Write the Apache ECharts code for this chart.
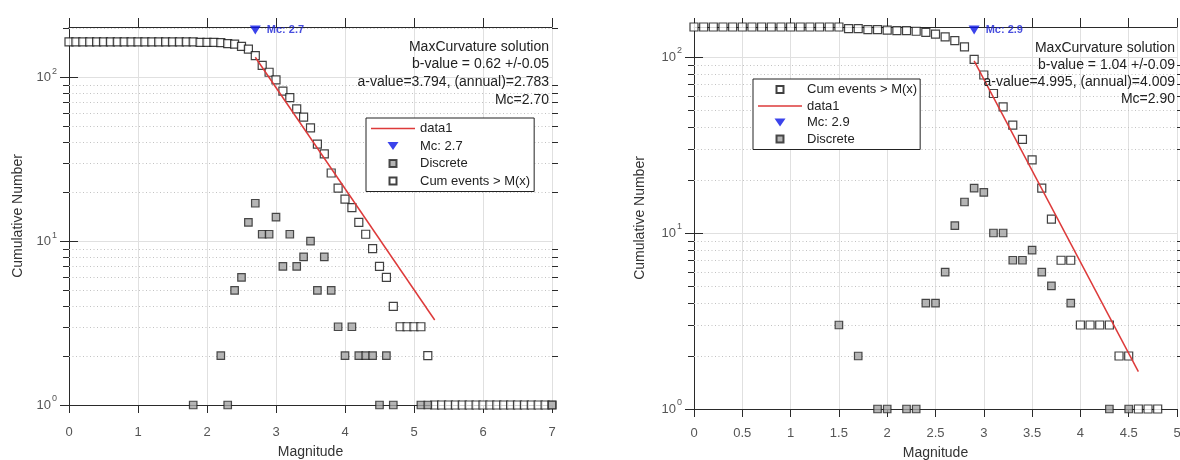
<!DOCTYPE html>
<html>
<head>
<meta charset="utf-8">
<script src="https://cdn.jsdelivr.net/npm/echarts@6/dist/echarts.min.js"></script>
<style>
  html, body { margin: 0; padding: 0; background: #fff; }
  #chart { width: 1180px; height: 460px; }
</style>
</head>
<body>
<div id="chart"></div>
<script>
// ---- left panel (Mc 2.7) ----
const leftMag = [0, 0.1, 0.2, 0.3, 0.4, 0.5, 0.6, 0.7, 0.8, 0.9, 1, 1.1, 1.2, 1.3, 1.4, 1.5, 1.6, 1.7, 1.8, 1.9,
    2, 2.1, 2.2, 2.3, 2.4, 2.5, 2.6, 2.7, 2.8, 2.9, 3, 3.1, 3.2, 3.3, 3.4, 3.5, 3.6, 3.7, 3.8, 3.9,
    4, 4.1, 4.2, 4.3, 4.4, 4.5, 4.6, 4.7, 4.8, 4.9, 5, 5.1, 5.2, 5.3, 5.4, 5.5, 5.6, 5.7, 5.8, 5.9,
    6, 6.1, 6.2, 6.3, 6.4, 6.5, 6.6, 6.7, 6.8, 6.9, 7];
const leftCum = [164, 164, 164, 164, 164, 164, 164, 164, 164, 164, 164, 164, 164, 164, 164, 164, 164, 164, 164, 163,
    163, 163, 162, 160, 159, 154, 148, 135, 118, 107, 96, 82, 75, 64, 57, 49, 39, 34, 26, 21,
    18, 16, 13, 11, 9, 7, 6, 4, 3, 3, 3, 3, 2, 1, 1, 1, 1, 1, 1, 1,
    1, 1, 1, 1, 1, 1, 1, 1, 1, 1, 1];
const leftDiscMag = [1.8, 2.2, 2.3, 2.4, 2.5, 2.6, 2.7, 2.8, 2.9, 3.0, 3.1, 3.2, 3.3, 3.4, 3.5,
    3.6, 3.7, 3.8, 3.9, 4.0, 4.1, 4.2, 4.3, 4.4, 4.5, 4.6, 4.7, 5.1, 5.2, 7.0];
const leftDisc = [1, 2, 1, 5, 6, 13, 17, 11, 11, 14, 7, 11, 7, 8, 10,
    5, 8, 5, 3, 2, 3, 2, 2, 2, 1, 2, 1, 1, 1, 1];
const leftFitMag = [2.7, 5.3];
const leftFitN = [132, 3.3];
const leftMc = 2.7;
const leftYMax = 202;
const leftMinor = [2, 3, 4, 5, 6, 7, 8, 9, 20, 30, 40, 50, 60, 70, 80, 90, 200];
const leftNote = ['MaxCurvature solution', 'b-value = 0.62 +/-0.05', 'a-value=3.794, (annual)=2.783', 'Mc=2.70'];

// ---- right panel (Mc 2.9) ----
const rightMag = [0, 0.1, 0.2, 0.3, 0.4, 0.5, 0.6, 0.7, 0.8, 0.9, 1, 1.1, 1.2, 1.3, 1.4, 1.5, 1.6, 1.7, 1.8, 1.9,
    2, 2.1, 2.2, 2.3, 2.4, 2.5, 2.6, 2.7, 2.8, 2.9, 3, 3.1, 3.2, 3.3, 3.4, 3.5, 3.6, 3.7, 3.8, 3.9,
    4, 4.1, 4.2, 4.3, 4.4, 4.5, 4.6, 4.7, 4.8];
const rightCum = [148, 148, 148, 148, 148, 148, 148, 148, 148, 148, 148, 148, 148, 148, 148, 148, 145, 145, 143, 143,
    142, 141, 141, 140, 138, 135, 130, 124, 114, 97, 79, 62, 52, 41, 34, 26, 18, 12, 7, 7,
    3, 3, 3, 3, 2, 2, 1, 1, 1];
const rightDiscMag = [1.5, 1.7, 1.9, 2.0, 2.2, 2.3, 2.4, 2.5, 2.6, 2.7, 2.8, 2.9, 3.0, 3.1, 3.2,
    3.3, 3.4, 3.5, 3.6, 3.7, 3.9, 4.3, 4.5];
const rightDisc = [3, 2, 1, 1, 1, 1, 4, 4, 6, 11, 15, 18, 17, 10, 10,
    7, 7, 8, 6, 5, 4, 1, 1];
const rightFitMag = [2.9, 4.6];
const rightFitN = [95, 1.63];
const rightMc = 2.9;
const rightYMax = 148;
const rightMinor = [2, 3, 4, 5, 6, 7, 8, 9, 20, 30, 40, 50, 60, 70, 80, 90];
const rightNote = ['MaxCurvature solution', 'b-value = 1.04 +/-0.09', 'a-value=4.995, (annual)=4.009', 'Mc=2.90'];

const FONT = 'Liberation Sans, Arial, sans-serif';
const AXIS = '#2a2a2a';

// legend icons, padded to the 44x8 item box so they are not stretched
const ICON_SQ = 'path://M0,0 M44,8 M18.5,0.5 h7 v7 h-7 z';
const ICON_TRI = 'path://M0,0 M44,8 M16.5,0 h11 l-5.5,8 z';
const ICON_LINE = 'path://M0,0 M44,8 M0,3.3 h44 v1.5 h-44 z';

function pairs(xs, ys) {
    return xs.map((x, i) => [x, ys[i]]);
}

function minorRender(params, api) {
    const cs = params.coordSys;
    const y = Math.round(api.coord([0, api.value(1)])[1]) + 0.5;
    const x0 = cs.x, x1 = cs.x + cs.width;
    return {
        type: 'group',
        children: [
            { type: 'line', shape: { x1: x0, y1: y, x2: x1, y2: y }, style: { stroke: '#c2c2c2', lineWidth: 1, lineDash: [1, 2.5] } },
            { type: 'line', shape: { x1: x0 - 6, y1: y, x2: x0, y2: y }, style: { stroke: AXIS, lineWidth: 1 } },
            { type: 'line', shape: { x1: x1, y1: y, x2: x1 + 6, y2: y }, style: { stroke: AXIS, lineWidth: 1 } }
        ]
    };
}

function xAxes(grid, max, interval, margin, gap) {
    return [{
        gridIndex: grid, type: 'value', min: 0, max: max, interval: interval,
        axisLine: { onZero: false, lineStyle: { color: AXIS } },
        axisTick: { length: 8, lineStyle: { color: AXIS } },
        axisLabel: { color: '#555', fontSize: 13, fontFamily: FONT, margin: margin },
        splitLine: { show: true, lineStyle: { color: '#e0e0e0' } },
        name: 'Magnitude', nameLocation: 'middle', nameGap: gap,
        nameTextStyle: { color: '#333', fontSize: 14, fontFamily: FONT }
    }, {
        gridIndex: grid, type: 'value', position: 'top', min: 0, max: max, interval: interval,
        axisLine: { onZero: false, lineStyle: { color: AXIS } },
        axisTick: { length: 9, lineStyle: { color: AXIS } },
        axisLabel: { show: false }, splitLine: { show: false }
    }];
}

function yAxes(grid, max, gap) {
    return [{
        gridIndex: grid, type: 'log', logBase: 10, min: 1, max: max,
        axisLine: { show: true, lineStyle: { color: AXIS } },
        axisTick: { length: 9, lineStyle: { color: AXIS } },
        axisLabel: {
            showMaxLabel: false, margin: 12,
            formatter: v => '{b|10}{s|' + Math.round(Math.log10(v)) + '}',
            rich: {
                b: { fontSize: 13, color: '#555', fontFamily: FONT },
                s: { fontSize: 9, color: '#555', fontFamily: FONT, padding: [0, 0, 12, 1] }
            }
        },
        splitLine: { show: true, lineStyle: { color: '#e0e0e0' } },
        name: 'Cumulative Number', nameLocation: 'middle', nameGap: gap,
        nameTextStyle: { color: '#333', fontSize: 14, fontFamily: FONT }
    }, {
        gridIndex: grid, type: 'log', logBase: 10, min: 1, max: max, position: 'right',
        axisLine: { show: true, lineStyle: { color: AXIS } },
        axisTick: { length: 9, lineStyle: { color: AXIS } },
        axisLabel: { show: false }, splitLine: { show: false }
    }];
}

function panelSeries(idx, p) {
    const xi = idx * 2, yi = idx * 2;
    return [{
        type: 'custom', xAxisIndex: xi, yAxisIndex: yi, z: 1, silent: true,
        renderItem: minorRender, data: p.minor.map(v => [0, v])
    }, {
        name: 'Cum events > M(x)', type: 'scatter', xAxisIndex: xi, yAxisIndex: yi, z: 3,
        symbol: 'rect', symbolSize: 8,
        itemStyle: { color: '#ffffff', borderColor: '#111', borderWidth: 1.2 },
        data: pairs(p.mag, p.cum)
    }, {
        name: 'Discrete', type: 'scatter', xAxisIndex: xi, yAxisIndex: yi, z: 4,
        symbol: 'rect', symbolSize: 7.5,
        itemStyle: { color: '#a3a3a3', borderColor: '#222', borderWidth: 1.2 },
        data: pairs(p.discMag, p.disc)
    }, {
        name: 'data1', type: 'line', xAxisIndex: xi, yAxisIndex: yi, z: 5,
        symbol: 'none', lineStyle: { color: '#dd3a3a', width: 1.5 },
        itemStyle: { color: '#dd3a3a' },
        data: pairs(p.fitMag, p.fitN)
    }, {
        name: 'Mc: ' + p.mc, type: 'scatter', xAxisIndex: xi, yAxisIndex: yi, z: 6,
        symbol: 'triangle', symbolRotate: 180, symbolSize: [11, 9], symbolOffset: [0, 3],
        itemStyle: { color: '#0a14e6' },
        label: {
            show: true, position: 'right', distance: 6, formatter: 'Mc: ' + p.mc,
            color: '#1a22d6', fontWeight: 'bold', fontSize: 11, fontFamily: FONT
        },
        data: [[p.mc, p.ymax]]
    }];
}

function legendItem(name) {
    if (name === 'data1') return { name: name, icon: ICON_LINE };
    if (name.indexOf('Mc:') === 0) return { name: name, icon: ICON_TRI };
    return { name: name, icon: ICON_SQ };
}

function legendBox(left, top, names, gap, padding) {
    return {
        orient: 'vertical', left: left, top: top, data: names.map(legendItem),
        itemWidth: 44, itemHeight: 8, itemGap: gap, itemTextGap: 5,
        symbolRotate: 0, symbolKeepAspect: false,
        padding: padding, borderColor: '#222', borderWidth: 1, borderRadius: 0,
        backgroundColor: '#fff', selectedMode: false,
        textStyle: { color: '#222', fontSize: 13, fontFamily: FONT }
    };
}

const leftPanel = { mag: leftMag, cum: leftCum, discMag: leftDiscMag, disc: leftDisc,
    fitMag: leftFitMag, fitN: leftFitN, mc: leftMc, ymax: leftYMax, minor: leftMinor };
const rightPanel = { mag: rightMag, cum: rightCum, discMag: rightDiscMag, disc: rightDisc,
    fitMag: rightFitMag, fitN: rightFitN, mc: rightMc, ymax: rightYMax, minor: rightMinor };

const myChart = echarts.init(document.getElementById('chart'), null, { renderer: 'canvas' });

const option = {
    animation: false,
    backgroundColor: '#fff',
    grid: [
        { left: 69, top: 27, width: 483, height: 378, outerBoundsMode: 'none', containLabel: false },
        { left: 694, top: 27, width: 483, height: 382, outerBoundsMode: 'none', containLabel: false }
    ],
    xAxis: [...xAxes(0, 7, 1, 21, 40), ...xAxes(1, 5, 0.5, 18, 37)],
    yAxis: [...yAxes(0, leftYMax, 44), ...yAxes(1, rightYMax, 47)],
    legend: [
        legendBox(366, 118, ['data1', 'Mc: 2.7', 'Discrete', 'Cum events > M(x)'], 4.5, [4, 4, 4, 4]),
        legendBox(753, 79, ['Cum events > M(x)', 'data1', 'Mc: 2.9', 'Discrete'], 3.5, [4, 3, 4, 4])
    ],
    graphic: [{
        type: 'text', x: 549, y: 38, z: 10, silent: true,
        style: { text: leftNote.join('\n'), align: 'right', verticalAlign: 'top', lineHeight: 17.7,
            fontSize: 14, fontFamily: FONT, fill: '#222' }
    }, {
        type: 'text', x: 1175, y: 39.5, z: 10, silent: true,
        style: { text: rightNote.join('\n'), align: 'right', verticalAlign: 'top', lineHeight: 17,
            fontSize: 14, fontFamily: FONT, fill: '#222' }
    }],
    series: [...panelSeries(0, leftPanel), ...panelSeries(1, rightPanel)]
};

myChart.setOption(option);
</script>
</body>
</html>
